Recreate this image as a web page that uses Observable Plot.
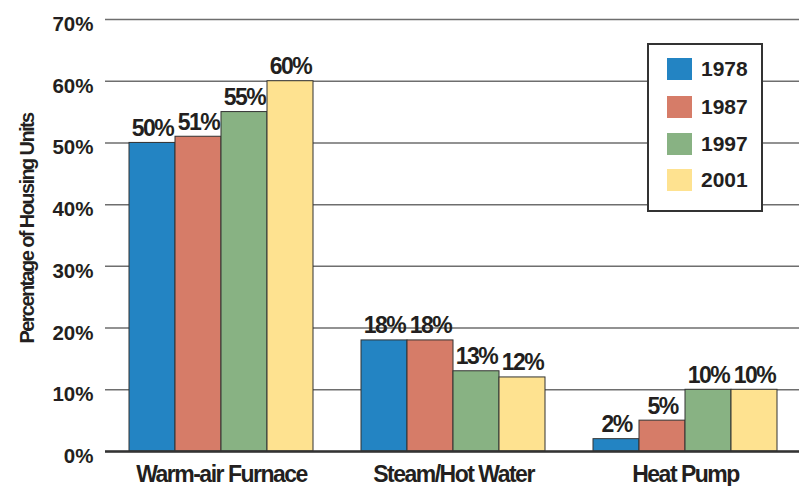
<!DOCTYPE html>
<html>
<head>
<meta charset="utf-8">
<script src="https://cdn.jsdelivr.net/npm/d3@7"></script>
<script src="https://cdn.jsdelivr.net/npm/@observablehq/plot@0.6"></script>
<style>
  html, body { margin: 0; padding: 0; background: #fff; }
  #wrap { position: relative; width: 799px; height: 486px; }
  #legend {
    position: absolute; left: 647px; top: 43px; width: 116px; height: 169px;
    box-sizing: border-box; border: 2px solid #333; background: #fff;
    font-family: "Liberation Sans", Arial, sans-serif; font-weight: bold; font-size: 21px; color: #231f20;
  }
  #legend .row { position: absolute; left: 18px; height: 22px; display: flex; align-items: center; }
  #legend .sw { width: 25px; height: 22px; margin-right: 9px; }
  svg g[font-family="Liberation Sans, sans-serif"] { letter-spacing: -1.5px; }
  svg g[font-family="Liberation Sans, Arial"] { letter-spacing: -1.6px; }
</style>
</head>
<body>
<div id="wrap"><div id="legend"></div></div>
<script>
const categories = ["Warm-air Furnace", "Steam/Hot Water", "Heat Pump"];
const years = ["1978", "1987", "1997", "2001"];
const values1978 = [50, 18, 2];
const values1987 = [51, 18, 5];
const values1997 = [55, 13, 10];
const values2001 = [60, 12, 10];
const yTicks = [0, 10, 20, 30, 40, 50, 60, 70];
const colors = ["#2384c3", "#d67c68", "#88b283", "#fee290"];
const yTitle = "Percentage of Housing Units";

const series = [values1978, values1987, values1997, values2001];
const data = [];
categories.forEach((c, i) => years.forEach((y, j) => data.push({category: c, year: y, value: series[j][i]})));

const W = 799, H = 486, ML = 104, MR = -2, MT = 19, MB = 35;
const facetStep = (W - ML - MR) / categories.length;
const tight = "Liberation Sans, sans-serif";
const titleFont = "Liberation Sans, Arial";
const regular = "'Liberation Sans', Arial, sans-serif";
const ink = "#231f20";

const chart = Plot.plot({
  width: W, height: H,
  marginLeft: ML, marginRight: MR, marginTop: MT, marginBottom: MB,
  style: {background: "#fff", color: ink, overflow: "visible"},
  fx: {domain: categories, padding: 0, label: null},
  x: {domain: years, paddingInner: 0, paddingOuter: 0.5, axis: null},
  y: {domain: [0, 70], label: null},
  color: {domain: years, range: colors},
  marks: [
    Plot.ruleY(yTicks, {stroke: "#6e6e6e", strokeWidth: 1.5}),
    Plot.rectY(data, {fx: "category", x: "year", y: "value", fill: "year", stroke: "#333", strokeWidth: 1}),
    Plot.text(data, {fx: "category", x: "year", y: "value", text: d => d.value + "%",
      lineAnchor: "bottom", dy: -7, fontFamily: tight, fontWeight: "bold", fontSize: 23, fill: ink}),
    Plot.ruleY([0], {stroke: "#333", strokeWidth: 2.5}),
    Plot.ruleX([categories[0]], {fx: d => d, y1: 0, y2: 70, dx: -facetStep / 2, stroke: "#333", strokeWidth: 2.5}),
    Plot.ruleX(categories.slice(1), {fx: d => d, y1: 0, y2: 0, insetTop: -10, dx: -facetStep / 2, stroke: "#333", strokeWidth: 2}),
    Plot.axisY({ticks: yTicks, tickSize: 0, tickPadding: 12, dy: 5, tickFormat: d => d + "%",
      label: null, fontFamily: regular, fontWeight: "bold", fontSize: 20.5, fill: ink}),
    Plot.axisFx({anchor: "bottom", tickSize: 0, tickPadding: 14, label: null,
      fontFamily: tight, fontWeight: "bold", fontSize: 23, fill: ink}),
    Plot.text([yTitle], {fx: [categories[0]], frameAnchor: "left", rotate: -90, textAnchor: "middle", lineAnchor: "bottom",
      dx: -72, dy: -7, fontFamily: titleFont, fontWeight: "bold", fontSize: 20, fill: ink})
  ]
});
document.getElementById("wrap").prepend(chart);

const legend = document.getElementById("legend");
const rowTops = [13, 51, 88, 124];
years.forEach((y, i) => {
  const row = document.createElement("div");
  row.className = "row";
  row.style.top = rowTops[i] + "px";
  row.innerHTML = `<div class="sw" style="background:${colors[i]}"></div><span>${y}</span>`;
  legend.appendChild(row);
});
</script>
</body>
</html>
